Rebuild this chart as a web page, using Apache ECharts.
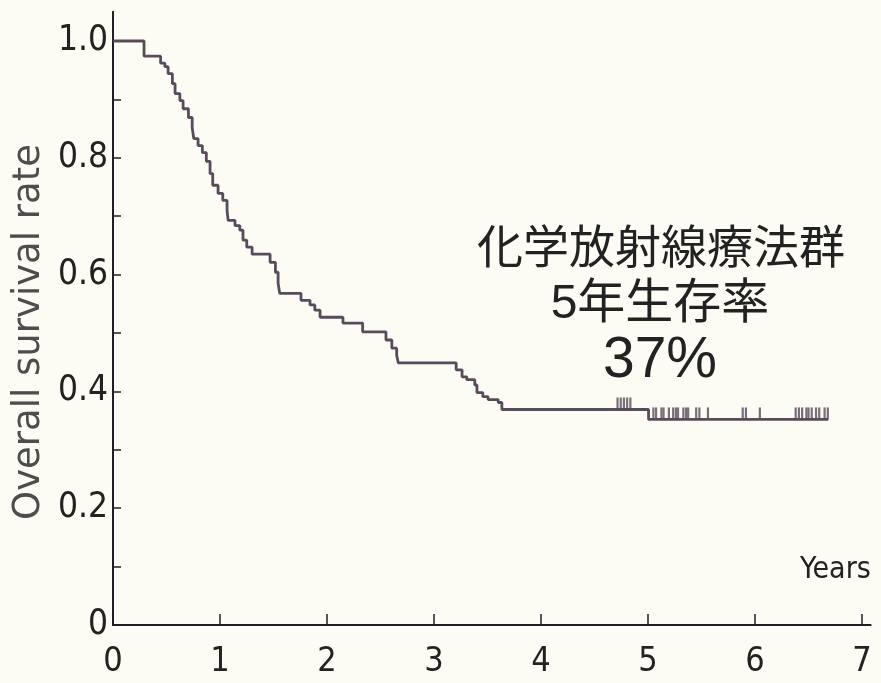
<!DOCTYPE html>
<html>
<head>
<meta charset="utf-8">
<script src="https://cdn.jsdelivr.net/npm/echarts@6/dist/echarts.min.js"></script>
<style>
  html, body { margin: 0; padding: 0; background: #fcfbf4; }
  #chart { width: 881px; height: 683px; }
</style>
</head>
<body>
<div id="chart"></div>
<script>
// Kaplan–Meier step points: time (years) and survival after each drop
const stepTimes = [0, 0.29, 0.445, 0.485, 0.515, 0.555, 0.58, 0.625, 0.655, 0.705, 0.74, 0.755,
  0.795, 0.835, 0.872, 0.907, 0.932, 0.982, 1.026, 1.066, 1.076, 1.14, 1.185, 1.215, 1.25,
  1.30, 1.468, 1.518, 1.543, 1.558, 1.757, 1.841, 1.886, 1.935, 2.149, 2.333, 2.551, 2.606,
  2.651, 2.666, 3.207, 3.262, 3.306, 3.381, 3.401, 3.456, 3.505, 3.60, 3.634, 5.005, 6.684];
const stepSurvival = [1.0, 0.974, 0.962, 0.956, 0.944, 0.927, 0.910, 0.898, 0.884, 0.869, 0.852, 0.833,
  0.821, 0.809, 0.794, 0.773, 0.753, 0.739, 0.727, 0.710, 0.693, 0.684, 0.676, 0.659, 0.647,
  0.635, 0.621, 0.604, 0.585, 0.568, 0.556, 0.548, 0.539, 0.527, 0.517, 0.502, 0.488, 0.474,
  0.462, 0.449, 0.437, 0.425, 0.420, 0.411, 0.398, 0.391, 0.386, 0.381, 0.369, 0.352, 0.352];

// Censored observations (years)
const censorTimes = [4.715, 4.745, 4.775, 4.805, 4.835,
  5.05, 5.075, 5.125, 5.145, 5.195, 5.235, 5.26, 5.28, 5.33, 5.355, 5.375, 5.45, 5.48, 5.56,
  5.885, 5.915, 6.045, 6.38, 6.41, 6.44, 6.48, 6.50, 6.53, 6.57, 6.60, 6.65, 6.68];

const xTickValues = [0, 1, 2, 3, 4, 5, 6, 7];
const yLabelValues = [0, 0.2, 0.4, 0.6, 0.8, 1.0];
const yTickValues = [0, 0.1, 0.2, 0.3, 0.4, 0.5, 0.6, 0.7, 0.8, 0.9, 1.0];

const annotationLines = ['化学放射線療法群', '5年生存率', '37%'];
const xAxisTitle = 'Years';
const yAxisTitle = 'Overall survival rate';

function survivalAt(t) {
  let s = stepSurvival[0];
  for (let i = 0; i < stepTimes.length; i++) {
    if (stepTimes[i] <= t) s = stepSurvival[i];
  }
  return s;
}

const curveColor = '#594c5a';
const axisColor = '#1f1f2a';
const tickFont = '"DejaVu Sans Condensed", "DejaVu Sans", sans-serif';

const chart = echarts.init(document.getElementById('chart'));
chart.setOption({
  backgroundColor: '#fcfbf4',
  animation: false,
  grid: { left: 113, right: 10.4, top: 11.8, bottom: 58 },
  xAxis: {
    type: 'value', min: 0, max: 7.08,
    axisLine: { show: true, onZero: false, lineStyle: { color: axisColor, width: 2 } },
    axisTick: { show: true, inside: true, length: 11, customValues: xTickValues,
      lineStyle: { color: axisColor, width: 1.5 } },
    axisLabel: { customValues: xTickValues, margin: 20,
      fontFamily: tickFont, fontSize: 34, color: '#222',
      formatter: v => String(v) },
    splitLine: { show: false }
  },
  yAxis: {
    type: 'value', min: 0, max: 1.05,
    axisLine: { show: true, lineStyle: { color: axisColor, width: 2 } },
    axisTick: { show: true, inside: true, length: 8, customValues: yTickValues,
      lineStyle: { color: axisColor, width: 1.5 } },
    axisLabel: { customValues: yLabelValues, margin: 5,
      fontFamily: tickFont, fontSize: 35, color: '#222',
      formatter: v => (v === 0 ? '0' : v.toFixed(1)) },
    splitLine: { show: false }
  },
  series: [
    {
      type: 'line', step: 'end', symbol: 'none',
      data: stepTimes.map((t, i) => [t, stepSurvival[i]]),
      lineStyle: { color: curveColor, width: 2.8 },
      z: 3
    },
    {
      type: 'scatter',
      data: censorTimes.map(t => [t, survivalAt(t)]),
      symbol: 'rect', symbolSize: [2.2, 12], symbolOffset: [0, -6],
      itemStyle: { color: curveColor },
      z: 4
    }
  ],
  graphic: [
    {
      type: 'text', x: 800, y: 570,
      style: { text: xAxisTitle, font: '30px "DejaVu Sans Condensed"', fill: '#222',
        textVerticalAlign: 'middle' }
    },
    {
      type: 'text', x: 29, y: 332, rotation: Math.PI / 2,
      style: { text: yAxisTitle, font: '37px "DejaVu Sans"', fill: '#4d4d4d',
        textAlign: 'center', textVerticalAlign: 'middle' }
    },
    {
      type: 'text', x: 661, y: 246,
      style: { text: annotationLines[0], font: '46px "Noto Sans CJK JP"', fill: '#222',
        textAlign: 'center', textVerticalAlign: 'middle' }
    },
    {
      type: 'text', x: 660, y: 305,
      style: { text: annotationLines[1], font: '48px "Liberation Sans", "Noto Sans CJK JP"', fill: '#222',
        textAlign: 'center', textVerticalAlign: 'middle' }
    },
    {
      type: 'text', x: 660, y: 361,
      style: { text: annotationLines[2], font: '57px "Liberation Sans"', fill: '#222',
        textAlign: 'center', textVerticalAlign: 'middle' }
    }
  ]
});
</script>
</body>
</html>
